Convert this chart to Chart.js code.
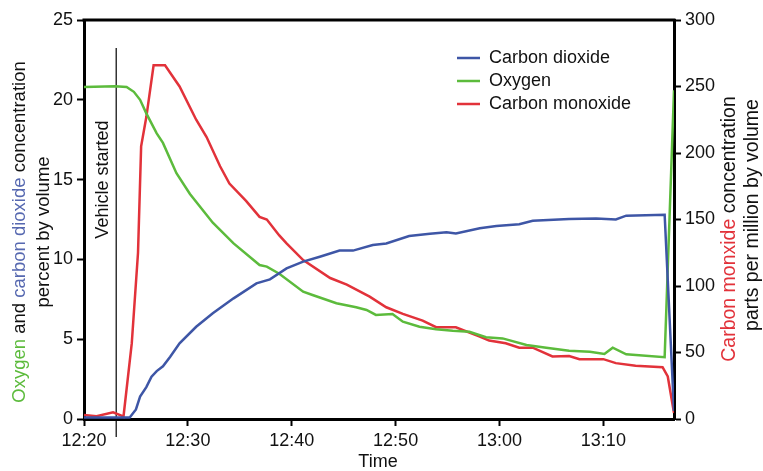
<!DOCTYPE html>
<html>
<head>
<meta charset="utf-8">
<script src="https://cdn.jsdelivr.net/npm/chart.js@4.4.1/dist/chart.umd.min.js"></script>
<style>
  body { margin: 0; background: #fff; }
  canvas { display: block; }
</style>
</head>
<body>
<canvas id="gasChart" width="763" height="471"></canvas>
<script>
// minutes after 12:20
const timeTicks = [0, 10, 20, 30, 40, 50];
const timeLabels = ['12:20', '12:30', '12:40', '12:50', '13:00', '13:10'];
const vehicleStarted = 3.1;

const o2Time = [0, 3.0, 4.1, 4.8, 5.4, 6.0, 7.0, 7.6, 8.9, 10.2, 12.4, 14.4, 16.9, 17.6, 18.8,
  21.1, 22.0, 24.3, 26.2, 27.2, 28.1, 29.7, 30.7, 32.3, 33.9, 35.5, 37.1, 38.7, 40.3, 42.6,
  44.5, 46.7, 48.7, 50.1, 50.9, 52.2, 55.9, 56.8];
const o2Values = [20.8, 20.85, 20.8, 20.5, 20.0, 19.15, 17.9, 17.3, 15.4, 14.1, 12.3, 11.0, 9.65, 9.55, 9.1,
  7.98, 7.77, 7.25, 7.0, 6.83, 6.52, 6.58, 6.1, 5.78, 5.62, 5.53, 5.47, 5.12, 5.05, 4.64,
  4.47, 4.28, 4.22, 4.07, 4.47, 4.05, 3.87, 20.6];

const co2Time = [0, 4.4, 5.0, 5.4, 6.0, 6.5, 7.0, 7.6, 8.3, 9.2, 10.8, 12.4, 14.4, 16.6, 17.9,
  19.5, 21.1, 22.7, 24.6, 25.9, 27.8, 29.1, 31.3, 33.3, 34.9, 35.8, 38.1, 39.7, 41.9, 43.2,
  46.7, 49.3, 51.2, 52.2, 55.9, 56.8];
const co2Values = [0.1, 0.1, 0.6, 1.4, 2.0, 2.65, 3.0, 3.3, 3.9, 4.74, 5.78, 6.62, 7.56, 8.5, 8.75,
  9.44, 9.86, 10.17, 10.55, 10.55, 10.9, 11.0, 11.47, 11.6, 11.7, 11.63, 11.95, 12.09, 12.2, 12.42,
  12.53, 12.57, 12.5, 12.74, 12.8, 0.5];

// ppm, right axis
const coTime = [0, 1.2, 2.8, 3.6, 3.8, 4.6, 5.2, 5.5, 6.0, 6.7, 7.8, 9.2, 10.8, 11.8, 13.1,
  14.0, 15.6, 16.9, 17.6, 18.8, 19.5, 21.1, 23.7, 25.3, 27.5, 29.1, 30.7, 32.6, 33.9, 35.8,
  38.1, 39.0, 40.6, 41.9, 43.2, 45.1, 46.7, 47.7, 50.0, 51.2, 53.1, 55.7, 56.2, 56.8];
const coValues = [3, 2, 5, 2.5, 1.7, 57, 125, 205, 227, 266, 266, 250, 225, 212, 190,
  177, 164, 152, 150, 138, 132, 119.5, 106, 101, 92, 84, 79, 74, 69, 69,
  62, 59, 57, 53.6, 53.6, 47, 47.4, 45, 45, 42, 40, 39, 32, 4.5];

const BLUE = '#3e56a6';
const GREEN = '#5cbb3c';
const RED = '#e2323a';
const FONT = '"Liberation Sans", Arial, sans-serif';

function pts(xs, ys) {
    return xs.map((x, i) => ({ x: x, y: ys[i] }));
}

// draws a line of text made of coloured pieces, centred on (cx, cy), rotated -90deg
function drawPieces(ctx, pieces, cx, cy, size) {
    ctx.save();
    ctx.translate(cx, cy);
    ctx.rotate(-Math.PI / 2);
    ctx.font = size + 'px ' + FONT;
    ctx.textBaseline = 'middle';
    ctx.textAlign = 'left';
    const total = pieces.reduce((s, p) => s + ctx.measureText(p[0]).width, 0);
    let x = -total / 2;
    pieces.forEach(p => {
        ctx.fillStyle = p[1];
        ctx.fillText(p[0], x, 0);
        x += ctx.measureText(p[0]).width;
    });
    ctx.restore();
}

const extras = {
    id: 'extras',
    beforeDatasetsDraw(chart) {
        const ctx = chart.ctx;
        const a = chart.chartArea;
        const x = chart.scales.x;
        const y = chart.scales.y;
        ctx.save();
        // top frame line
        ctx.strokeStyle = '#000';
        ctx.lineWidth = 3;
        ctx.beginPath();
        ctx.moveTo(a.left - 1.5, a.top);
        ctx.lineTo(a.right + 1.5, a.top);
        ctx.stroke();

        // vehicle started marker
        const vx = x.getPixelForValue(vehicleStarted);
        ctx.lineWidth = 1.2;
        ctx.beginPath();
        ctx.moveTo(vx, y.getPixelForValue(23.25));
        ctx.lineTo(vx, a.bottom + 18);
        ctx.stroke();
        ctx.restore();
        drawPieces(ctx, [['Vehicle started', '#111']], vx - 13, y.getPixelForValue(15), 18);
    },
    afterDraw(chart) {
        const ctx = chart.ctx;
        const a = chart.chartArea;

        drawPieces(ctx, [['Oxygen', GREEN], [' and ', '#111'], ['carbon dioxide', '#5668b0'], [' concentration', '#111']], 20, 232, 18.5);
        drawPieces(ctx, [['percent by volume', '#111']], 44, 232, 18.5);
        drawPieces(ctx, [['Carbon monxide', RED], [' concentration', '#111']], 730, 229, 19.5);
        drawPieces(ctx, [['parts per million by volume', '#111']], 753, 215, 19.5);

        ctx.save();
        ctx.font = '18px ' + FONT;
        ctx.fillStyle = '#111';
        ctx.textAlign = 'center';
        ctx.textBaseline = 'middle';
        ctx.fillText('Time', (a.left + a.right) / 2 - 1, 462);

        // legend
        ctx.textAlign = 'left';
        chart.data.datasets.forEach((ds, i) => {
            const ly = 58 + i * 23;
            ctx.strokeStyle = ds.borderColor;
            ctx.lineWidth = 2.5;
            ctx.beginPath();
            ctx.moveTo(457, ly);
            ctx.lineTo(480, ly);
            ctx.stroke();
            ctx.fillStyle = '#111';
            ctx.fillText(ds.label, 489, ly);
        });
        ctx.restore();
    }
};

const tickFont = { family: FONT, size: 18 };
const axisGrid = { drawOnChartArea: false, tickLength: 7, tickWidth: 2, tickColor: '#000' };
const axisBorder = { display: true, color: '#000', width: 3 };

document.addEventListener('DOMContentLoaded', function() {
    const ctx = document.getElementById('gasChart');
    new Chart(ctx, {
        type: 'line',
        data: {
            datasets: [{
                label: 'Carbon dioxide',
                data: pts(co2Time, co2Values),
                borderColor: BLUE,
                yAxisID: 'y'
            }, {
                label: 'Oxygen',
                data: pts(o2Time, o2Values),
                borderColor: GREEN,
                yAxisID: 'y'
            }, {
                label: 'Carbon monoxide',
                data: pts(coTime, coValues),
                borderColor: RED,
                yAxisID: 'y2'
            }]
        },
        options: {
            responsive: false,
            animation: false,
            layout: { padding: { top: 20, left: 0, right: 0, bottom: 0 } },
            elements: {
                line: { borderWidth: 2.5, tension: 0 },
                point: { radius: 0 }
            },
            plugins: {
                legend: { display: false },
                tooltip: { enabled: false }
            },
            scales: {
                x: {
                    type: 'linear',
                    min: 0,
                    max: 56.8,
                    afterBuildTicks: s => { s.ticks = timeTicks.map(v => ({ value: v })); },
                    afterFit: s => { s.height = 52; },
                    ticks: {
                        font: tickFont, color: '#111', padding: 4, maxRotation: 0,
                        callback: (v, i) => timeLabels[i]
                    },
                    grid: axisGrid,
                    border: axisBorder
                },
                y: {
                    position: 'left',
                    min: 0,
                    max: 25,
                    afterFit: s => { s.width = 84; },
                    ticks: { stepSize: 5, font: tickFont, color: '#111', padding: 4 },
                    grid: axisGrid,
                    border: axisBorder
                },
                y2: {
                    position: 'right',
                    min: 0,
                    max: 300,
                    afterFit: s => { s.width = 89; },
                    ticks: { stepSize: 50, font: tickFont, color: '#111', padding: 4 },
                    grid: axisGrid,
                    border: axisBorder
                }
            }
        },
        plugins: [extras]
    });
});
</script>
</body>
</html>
